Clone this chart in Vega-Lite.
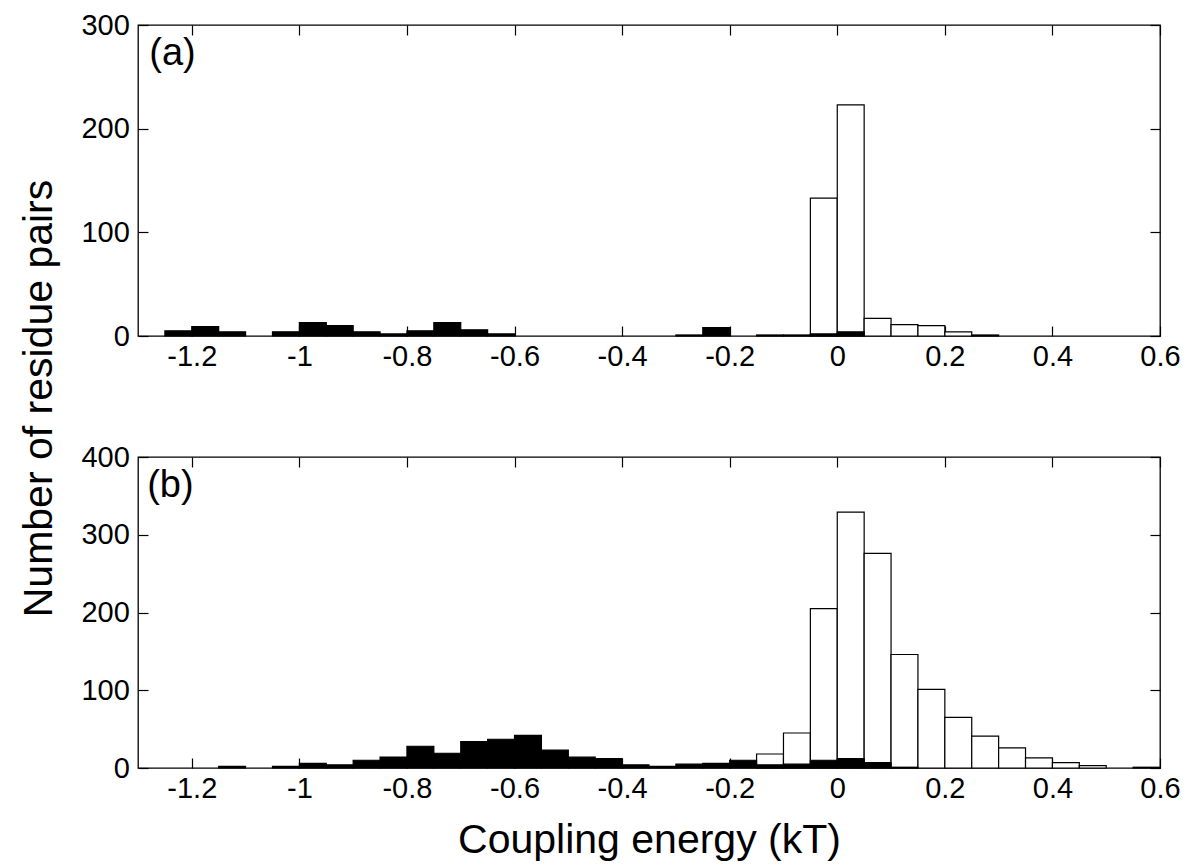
{
  "$schema": "https://vega.github.io/schema/vega-lite/v6.json",
  "background": "white",
  "padding": {"left": 17, "top": 10, "right": 5, "bottom": 5},
  "bounds": "flush",
  "spacing": 121,
  "config": {
    "font": "Liberation Sans",
    "view": {"stroke": "black", "strokeWidth": 1.3},
    "axis": {
      "domain": false, "grid": false, "tickSize": -10, "tickColor": "black", "tickWidth": 1.2,
      "labelFont": "Liberation Sans", "labelFontSize": 29, "labelColor": "black",
      "titleFont": "Liberation Sans", "titleFontSize": 41, "titleColor": "black", "titleFontWeight": "normal",
      "labelOverlap": false, "labelBound": false
    }
  },
  "datasets": {
    "top": [
      {"group": "white", "start": -0.05, "end": 0.0, "count": 133},
      {"group": "white", "start": 0.0, "end": 0.05, "count": 223},
      {"group": "white", "start": 0.05, "end": 0.1, "count": 17},
      {"group": "white", "start": 0.1, "end": 0.15, "count": 11},
      {"group": "white", "start": 0.15, "end": 0.2, "count": 10},
      {"group": "white", "start": 0.2, "end": 0.25, "count": 4},
      {"group": "white", "start": 0.25, "end": 0.3, "count": 1},
      {"group": "black", "start": -1.25, "end": -1.2, "count": 5},
      {"group": "black", "start": -1.2, "end": -1.15, "count": 9},
      {"group": "black", "start": -1.15, "end": -1.1, "count": 4},
      {"group": "black", "start": -1.05, "end": -1.0, "count": 4},
      {"group": "black", "start": -1.0, "end": -0.95, "count": 13},
      {"group": "black", "start": -0.95, "end": -0.9, "count": 10},
      {"group": "black", "start": -0.9, "end": -0.85, "count": 4},
      {"group": "black", "start": -0.85, "end": -0.8, "count": 2},
      {"group": "black", "start": -0.8, "end": -0.75, "count": 5},
      {"group": "black", "start": -0.75, "end": -0.7, "count": 13},
      {"group": "black", "start": -0.7, "end": -0.65, "count": 6},
      {"group": "black", "start": -0.65, "end": -0.6, "count": 2},
      {"group": "black", "start": -0.3, "end": -0.25, "count": 1},
      {"group": "black", "start": -0.25, "end": -0.2, "count": 8},
      {"group": "black", "start": -0.15, "end": -0.1, "count": 1},
      {"group": "black", "start": -0.1, "end": -0.05, "count": 1},
      {"group": "black", "start": -0.05, "end": 0.0, "count": 2},
      {"group": "black", "start": 0.0, "end": 0.05, "count": 4}
    ],
    "bottom": [
      {"group": "white", "start": -0.15, "end": -0.1, "count": 18},
      {"group": "white", "start": -0.1, "end": -0.05, "count": 45},
      {"group": "white", "start": -0.05, "end": 0.0, "count": 205},
      {"group": "white", "start": 0.0, "end": 0.05, "count": 329},
      {"group": "white", "start": 0.05, "end": 0.1, "count": 276},
      {"group": "white", "start": 0.1, "end": 0.15, "count": 146},
      {"group": "white", "start": 0.15, "end": 0.2, "count": 101},
      {"group": "white", "start": 0.2, "end": 0.25, "count": 65},
      {"group": "white", "start": 0.25, "end": 0.3, "count": 41},
      {"group": "white", "start": 0.3, "end": 0.35, "count": 26},
      {"group": "white", "start": 0.35, "end": 0.4, "count": 13},
      {"group": "white", "start": 0.4, "end": 0.45, "count": 7},
      {"group": "white", "start": 0.45, "end": 0.5, "count": 3},
      {"group": "black", "start": -1.15, "end": -1.1, "count": 2},
      {"group": "black", "start": -1.05, "end": -1.0, "count": 2},
      {"group": "black", "start": -1.0, "end": -0.95, "count": 6},
      {"group": "black", "start": -0.95, "end": -0.9, "count": 4},
      {"group": "black", "start": -0.9, "end": -0.85, "count": 10},
      {"group": "black", "start": -0.85, "end": -0.8, "count": 14},
      {"group": "black", "start": -0.8, "end": -0.75, "count": 28},
      {"group": "black", "start": -0.75, "end": -0.7, "count": 19},
      {"group": "black", "start": -0.7, "end": -0.65, "count": 34},
      {"group": "black", "start": -0.65, "end": -0.6, "count": 37},
      {"group": "black", "start": -0.6, "end": -0.55, "count": 42},
      {"group": "black", "start": -0.55, "end": -0.5, "count": 23},
      {"group": "black", "start": -0.5, "end": -0.45, "count": 14},
      {"group": "black", "start": -0.45, "end": -0.4, "count": 12},
      {"group": "black", "start": -0.4, "end": -0.35, "count": 4},
      {"group": "black", "start": -0.35, "end": -0.3, "count": 2},
      {"group": "black", "start": -0.3, "end": -0.25, "count": 5},
      {"group": "black", "start": -0.25, "end": -0.2, "count": 6},
      {"group": "black", "start": -0.2, "end": -0.15, "count": 10},
      {"group": "black", "start": -0.15, "end": -0.1, "count": 4},
      {"group": "black", "start": -0.1, "end": -0.05, "count": 5},
      {"group": "black", "start": -0.05, "end": 0.0, "count": 10},
      {"group": "black", "start": 0.0, "end": 0.05, "count": 12},
      {"group": "black", "start": 0.05, "end": 0.1, "count": 7},
      {"group": "black", "start": 0.1, "end": 0.15, "count": 1},
      {"group": "black", "start": 0.55, "end": 0.6, "count": 1}
    ],
    "labels": [{"panel": "a", "text": "(a)"}, {"panel": "b", "text": "(b)"}]
  },
  "vconcat": [
    {
      "width": 1022,
      "height": 311,
      "data": {"name": "top"},
      "resolve": {"axis": {"x": "independent", "y": "independent"}},
      "layer": [
        {
          "transform": [{"filter": "datum.group === 'white'"}],
          "mark": {"type": "rect", "fill": "white", "stroke": "black", "strokeWidth": 1.2},
          "encoding": {
            "x": {"field": "start", "type": "quantitative", "scale": {"domain": [-1.3, 0.6], "nice": false, "zero": false},
                  "axis": {"orient": "bottom", "title": null, "values": [-1.2, -1, -0.8, -0.6, -0.4, -0.2, 0, 0.2, 0.4, 0.6], "labelExpr": "toString(datum.value)", "labelFlush": false, "labelPadding": 16}},
            "x2": {"field": "end"},
            "y": {"field": "count", "type": "quantitative", "scale": {"domain": [0, 300], "nice": false},
                  "axis": {"orient": "left", "title": null, "values": [0, 100, 200, 300], "labelPadding": 18.7}},
            "y2": {"datum": 0}
          }
        },
        {
          "transform": [{"filter": "datum.group === 'black'"}],
          "mark": {"type": "rect", "fill": "black", "stroke": "black", "strokeWidth": 1.2},
          "encoding": {
            "x": {"field": "start", "type": "quantitative",
                  "axis": {"orient": "top", "title": null, "values": [-1.2, -1, -0.8, -0.6, -0.4, -0.2, 0, 0.2, 0.4, 0.6], "labels": false}},
            "x2": {"field": "end"},
            "y": {"field": "count", "type": "quantitative",
                  "axis": {"orient": "right", "title": null, "values": [0, 100, 200, 300], "labels": false}},
            "y2": {"datum": 0}
          }
        },
        {
          "data": {"name": "labels"},
          "transform": [{"filter": "datum.panel === 'a'"}],
          "mark": {"type": "text", "font": "Liberation Sans", "fontSize": 38, "fontWeight": "normal", "align": "left", "baseline": "alphabetic", "fill": "black"},
          "encoding": {
            "text": {"field": "text"},
            "x": {"datum": -1.279, "type": "quantitative", "axis": null},
            "y": {"datum": 261, "type": "quantitative", "axis": null}
          }
        }
      ]
    },
    {
      "width": 1022,
      "height": 311,
      "data": {"name": "bottom"},
      "resolve": {"axis": {"x": "independent", "y": "independent"}},
      "layer": [
        {
          "transform": [{"filter": "datum.group === 'white'"}],
          "mark": {"type": "rect", "fill": "white", "stroke": "black", "strokeWidth": 1.2},
          "encoding": {
            "x": {"field": "start", "type": "quantitative", "scale": {"domain": [-1.3, 0.6], "nice": false, "zero": false},
                  "axis": {"orient": "bottom", "title": "Coupling energy (kT)", "titleY": 84, "titleBaseline": "alphabetic", "values": [-1.2, -1, -0.8, -0.6, -0.4, -0.2, 0, 0.2, 0.4, 0.6], "labelExpr": "toString(datum.value)", "labelFlush": false, "labelPadding": 16}},
            "x2": {"field": "end"},
            "y": {"field": "count", "type": "quantitative", "scale": {"domain": [0, 400], "nice": false},
                  "axis": {"orient": "left", "title": "Number of residue pairs", "titleX": -86.7, "titleY": -59, "titleAngle": -90, "titleAlign": "center", "titleBaseline": "alphabetic", "values": [0, 100, 200, 300, 400], "labelPadding": 18.7}},
            "y2": {"datum": 0}
          }
        },
        {
          "transform": [{"filter": "datum.group === 'black'"}],
          "mark": {"type": "rect", "fill": "black", "stroke": "black", "strokeWidth": 1.2},
          "encoding": {
            "x": {"field": "start", "type": "quantitative",
                  "axis": {"orient": "top", "title": null, "values": [-1.2, -1, -0.8, -0.6, -0.4, -0.2, 0, 0.2, 0.4, 0.6], "labels": false}},
            "x2": {"field": "end"},
            "y": {"field": "count", "type": "quantitative",
                  "axis": {"orient": "right", "title": null, "values": [0, 100, 200, 300, 400], "labels": false}},
            "y2": {"datum": 0}
          }
        },
        {
          "data": {"name": "labels"},
          "transform": [{"filter": "datum.panel === 'b'"}],
          "mark": {"type": "text", "font": "Liberation Sans", "fontSize": 38, "fontWeight": "normal", "align": "left", "baseline": "alphabetic", "fill": "black"},
          "encoding": {
            "text": {"field": "text"},
            "x": {"datum": -1.283, "type": "quantitative", "axis": null},
            "y": {"datum": 349, "type": "quantitative", "axis": null}
          }
        }
      ]
    }
  ]
}
